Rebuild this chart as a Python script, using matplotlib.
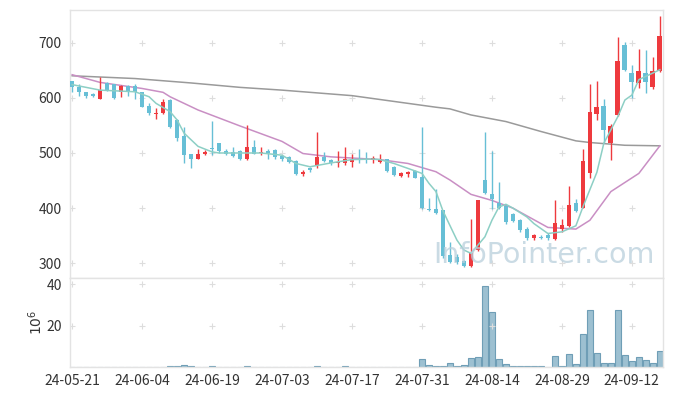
import matplotlib.pyplot as plt
import numpy as np

# daily candles
opens = [630, 619, 610, 607, 598, 627, 625, 610, 622, 621, 610, 586, 570, 572, 596, 560, 530, 498, 490, 499,
         509, 518, 504, 502, 504, 489, 511, 500, 503, 505, 495, 492, 486, 461, 472, 478, 493, 487, 482, 481,
         484, 490, 489, 487, 483, 489, 475, 459, 461, 467, 457, 398, 398, 396, 315, 312, 304, 295, 324, 451,
         425, 410, 404, 389, 378, 363, 345, 348, 352, 344, 363, 367, 410, 400, 463, 571, 585, 519, 568, 696,
         645, 627, 645, 619, 648]
highs = [631, 625, 611, 609, 637, 628, 626, 624, 623, 625, 611, 590, 581, 598, 598, 561, 548, 499, 508, 505,
         558, 519, 508, 510, 506, 551, 524, 510, 508, 507, 497, 494, 487, 469, 474, 538, 501, 490, 503, 510,
         498, 507, 501, 494, 499, 490, 476, 466, 468, 470, 547, 418, 434, 397, 339, 316, 306, 380, 415, 538,
         504, 448, 406, 391, 380, 366, 353, 351, 355, 415, 380, 440, 416, 508, 626, 631, 598, 552, 710, 701,
         660, 688, 687, 674, 749]
lows = [610, 604, 600, 602, 598, 612, 598, 601, 603, 598, 583, 569, 561, 571, 546, 521, 482, 472, 489, 497,
        496, 500, 496, 492, 488, 488, 498, 497, 490, 490, 486, 481, 460, 459, 466, 473, 484, 479, 474, 478,
        474, 481, 481, 481, 482, 466, 459, 456, 457, 454, 398, 394, 390, 310, 300, 298, 293, 293, 322, 426,
        399, 398, 372, 374, 357, 342, 342, 344, 343, 343, 357, 366, 393, 400, 454, 560, 518, 487, 567, 648,
        599, 618, 608, 616, 647]
closes = [619, 610, 604, 604, 614, 613, 600, 622, 610, 610, 584, 573, 573, 592, 547, 528, 496, 489, 499, 502,
          507, 503, 498, 494, 489, 511, 499, 502, 500, 492, 489, 483, 461, 466, 469, 493, 486, 481, 484, 490,
          490, 488, 488, 491, 489, 467, 460, 463, 465, 455, 400, 396, 392, 313, 302, 302, 295, 318, 414, 428,
          416, 401, 375, 377, 360, 345, 351, 346, 346, 373, 369, 405, 395, 486, 575, 584, 541, 549, 666, 651,
          628, 648, 628, 649, 713]
volume = [0, 0, 0, 0, 0, 0, 0, 0, 0, 0, 0, 0, 0, 0, 0.6, 0.6, 1.0, 0.6, 0, 0,
          0.5, 0, 0, 0, 0, 0.5, 0, 0, 0, 0, 0, 0, 0, 0, 0, 0.5, 0, 0, 0, 0.5,
          0, 0, 0, 0, 0, 0, 0, 0, 0, 0, 3.9, 1.0, 0.3, 0.3, 2.0, 0.3, 1.0, 4.4, 4.9, 39,
          26.3, 3.9, 1.5, 0.3, 0.3, 0.3, 0.3, 0.3, 0, 5.3, 0.3, 6.4, 1.5, 16, 27.7, 6.8, 2.0, 2.0, 27.7, 5.8,
          3.0, 4.9, 3.4, 2.0, 7.7]

# moving average lines (index, value)
ma5_idx = [0, 4, 9, 11, 12, 14, 15, 16, 18, 20, 21, 27, 30, 32, 34, 37, 40, 43, 44, 46, 48, 50, 51, 52, 53,
           55, 56, 57, 59, 60, 61, 62, 63, 65, 66, 68, 70, 72, 73, 75, 76, 78, 79, 80, 81, 83, 84]
ma5_val = [624, 614, 611, 602, 590, 575, 560, 536, 512, 502, 500, 500, 496, 481, 475, 482, 488, 489, 488, 481,
           472, 463, 445, 430, 395, 342, 324, 318, 348, 378, 402, 407, 400, 384, 372, 354, 357, 368, 402, 465,
           518, 566, 596, 605, 633, 645, 651]
ma20_idx = [0, 4, 10, 13, 14, 18, 24, 30, 33, 37, 44, 48, 52, 54, 57, 60, 63, 68, 72, 74, 77, 81, 84]
ma20_val = [642, 628, 617, 610, 602, 578, 549, 521, 499, 493, 488, 481, 466, 451, 425, 414, 400, 365, 362, 378,
            430, 463, 513]
ma60_idx = [0, 9, 17, 24, 30, 40, 52, 54, 57, 62, 67, 72, 74, 79, 84]
ma60_val = [640, 635, 627, 619, 614, 604, 583, 580, 569, 557, 539, 522, 519, 514, 513]

tick_labels = ['24-05-21', '24-06-04', '24-06-19', '24-07-03', '24-07-17',
               '24-07-31', '24-08-14', '24-08-29', '24-09-12']

up_col = '#ee3a3e'
down_col = '#67bfd6'
frame_col = '#e3e3e3'

plt.rcParams['font.family'] = ['Noto Sans CJK KR', 'DejaVu Sans']

fig = plt.figure(figsize=(6.73, 3.96), dpi=100)
ax = fig.add_axes([70 / 673, 1 - 278 / 396, 593 / 673, 268 / 396])
axv = fig.add_axes([70 / 673, 1 - 367 / 396, 593 / 673, 89 / 396], sharex=ax)

x = np.arange(len(closes))
o = np.array(opens)
c = np.array(closes)
up = c >= o
cols = np.where(up, up_col, down_col)

# candles
ax.vlines(x, lows, highs, colors=cols, linewidth=1.0, zorder=3)
body_h = np.maximum(np.abs(c - o), 1.5)
ax.bar(x, body_h, bottom=np.minimum(o, c), width=0.68, color=cols, zorder=4)

# moving averages
ax.plot(ma60_idx, ma60_val, color='#9a9a9a', lw=1.1, zorder=2)
ax.plot(ma20_idx, ma20_val, color='#c98fc4', lw=1.1, zorder=2)
ax.plot(ma5_idx, ma5_val, color='#8dcfc5', lw=1.1, zorder=5)

ax.text(0.8, 0.085, 'InfoPointer.com', transform=ax.transAxes, ha='center', va='center',
        fontsize=20.5, color='#b9cfdc', alpha=0.75, zorder=6, family='DejaVu Sans')

# volume
axv.bar(x, volume, width=0.95, color='#9dc0d1', edgecolor='#6f9eb6', linewidth=0.8)

xt = np.arange(0, 90, 10)
ax.set_xlim(-0.3, 84.45)
ax.set_ylim(273.3, 759.3)
ax.set_yticks([300, 400, 500, 600, 700])
axv.set_ylim(0, 42.9)
axv.set_yticks([20, 40])
axv.set_xticks(xt)
axv.set_xticklabels(tick_labels)
axv.set_ylabel(r'$10^6$', fontsize=10, color='#333333', labelpad=1)

# "+" grid marks at tick crossings
for a, yt in ((ax, [300, 400, 500, 600, 700]), (axv, [20, 40])):
    gx, gy = np.meshgrid(xt, yt)
    a.scatter(gx.ravel(), gy.ravel(), marker='+', s=18, color='#dddddd', linewidths=0.8, zorder=1)
    a.tick_params(length=0, labelsize=10, labelcolor='#333333', pad=6)
    for s in a.spines.values():
        s.set_color(frame_col)
        s.set_linewidth(1.0)

ax.tick_params(labelbottom=False)
axv.tick_params(axis='x', pad=5)

fig.savefig('out.png', dpi=100)
